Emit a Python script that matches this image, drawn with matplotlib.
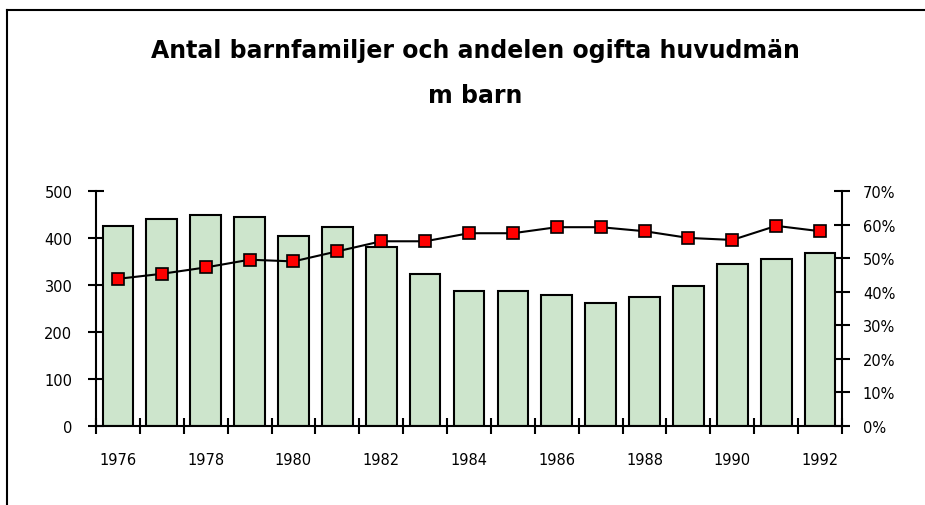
import matplotlib
matplotlib.use('Agg')
import matplotlib.pyplot as plt
from matplotlib.lines import Line2D
import numpy as np

# data
years = list(range(1976, 1993))
families = [426, 440, 449, 444, 405, 423, 380, 324, 286, 286, 278, 261, 274, 298, 345, 355, 367]
unmarried_share = [0.438, 0.453, 0.472, 0.495, 0.490, 0.520, 0.550, 0.550, 0.574, 0.574,
                   0.592, 0.592, 0.580, 0.560, 0.554, 0.596, 0.580]
left_ticks = [0, 100, 200, 300, 400, 500]
right_ticks = [0.0, 0.1, 0.2, 0.3, 0.4, 0.5, 0.6, 0.7]
right_labels = ['0%', '10%', '20%', '30%', '40%', '50%', '60%', '70%']

plt.rcParams['font.family'] = ['DejaVu Sans']

fig = plt.figure(figsize=(9.25, 5.06), dpi=100)
ax = fig.add_axes([0.1038, 0.1567, 0.8065, 0.4639])
ax2 = ax.twinx()

x = np.arange(len(years))
ax.bar(x, families, width=0.7, color='#cde5cc', edgecolor='black', linewidth=1.5, zorder=2)
ax2.plot(x, unmarried_share, color='black', linewidth=1.5, marker='s', markersize=8,
         markerfacecolor='#ff0000', markeredgecolor='black', markeredgewidth=1.2, zorder=3)

ax.set_xlim(-0.5, len(years) - 0.5)
ax.set_ylim(0, 500)
ax2.set_ylim(0, 0.7)

# ticks on category boundaries, labels every other year between them
ax.set_xticks(np.arange(-0.5, len(years), 1.0))
ax.set_xticklabels([])
ax.set_xticks(x[::2], minor=True)
ax.set_xticklabels([str(y) for y in years[::2]], minor=True)
ax.tick_params(axis='x', which='major', direction='inout', length=12, width=1.5)
ax.tick_params(axis='x', which='minor', length=0, pad=19, labelsize=10.5)

ax.set_yticks(left_ticks)
ax.set_yticklabels([str(v) for v in left_ticks])
ax.tick_params(axis='y', direction='inout', length=12, width=1.5, labelsize=10.5, pad=11)
ax2.set_yticks(right_ticks)
ax2.set_yticklabels(right_labels)
ax2.tick_params(axis='y', direction='inout', length=12, width=1.5, labelsize=10.5, pad=9)

for a in (ax, ax2):
    a.spines['top'].set_visible(False)
    for s in ('left', 'right', 'bottom'):
        a.spines[s].set_linewidth(1.5)
ax.spines['right'].set_visible(False)
ax2.spines['left'].set_visible(False)
ax2.spines['bottom'].set_visible(False)

fig.text(0.5135, 0.899, 'Antal barnfamiljer och andelen ogifta huvudmän',
         ha='center', va='center', fontsize=17, fontweight='bold')
fig.text(0.5135, 0.811, 'm barn', ha='center', va='center', fontsize=17, fontweight='bold')

# outer frame (top and left edges visible)
fig.add_artist(Line2D([0.0076, 1.0], [0.978, 0.978], color='black', linewidth=1.5))
fig.add_artist(Line2D([0.0076, 0.0076], [0.0, 0.978], color='black', linewidth=1.5))

fig.savefig('out.png', dpi=100)
